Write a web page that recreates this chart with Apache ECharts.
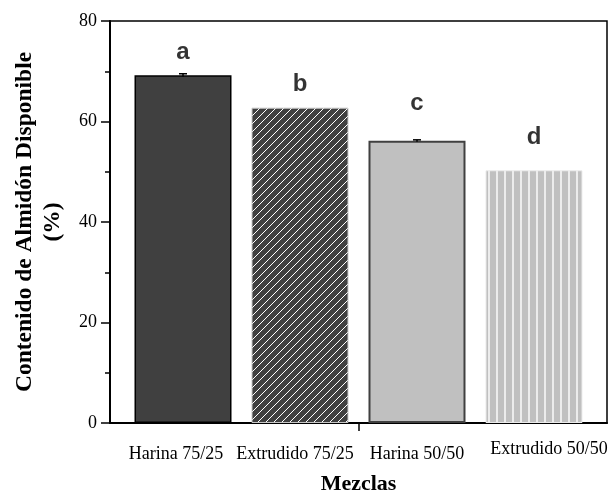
<!DOCTYPE html>
<html>
<head>
<meta charset="utf-8">
<script src="https://cdn.jsdelivr.net/npm/echarts@6/dist/echarts.min.js"></script>
<style>html,body{margin:0;padding:0;background:#fff}#c{width:608px;height:494px}</style>
</head>
<body>
<div id="c"></div>
<script>
// Data
const categories = ['Harina 75/25', 'Extrudido 75/25', 'Harina 50/50', 'Extrudido 50/50'];
const values = [69.2, 62.75, 56.15, 50.3];
const errors = [0.3, 0, 0.2, 0];
const letters = ['a', 'b', 'c', 'd'];
const letterHeights = [73.8, 67.3, 63.7, 56.9];
const yTicks = [0, 20, 40, 60, 80];

function makePattern(kind) {
  const c = document.createElement('canvas');
  c.width = 8; c.height = 8;
  const g = c.getContext('2d');
  if (kind === 'diag') {
    g.fillStyle = '#404040'; g.fillRect(0, 0, 8, 8);
    g.strokeStyle = '#ffffff'; g.lineWidth = 1;
    g.beginPath();
    g.moveTo(-1, 9); g.lineTo(9, -1);
    g.moveTo(-1, 1); g.lineTo(1, -1);
    g.moveTo(7, 9); g.lineTo(9, 7);
    g.stroke();
  } else {
    g.fillStyle = '#c0c0c0'; g.fillRect(0, 0, 8, 8);
    g.fillStyle = '#ececec'; g.fillRect(0, 0, 2, 8);
  }
  return c;
}

const barStyles = [
  { color: '#404040', borderColor: '#000000', borderWidth: 1.5 },
  { color: { image: makePattern('diag'), repeat: 'repeat' }, borderColor: '#c8c8c8', borderWidth: 1 },
  { color: '#c0c0c0', borderColor: '#404040', borderWidth: 2 },
  { color: { image: makePattern('vert'), repeat: 'repeat' }, borderColor: '#ececec', borderWidth: 1 }
];

const chart = echarts.init(document.getElementById('c'));
const serif = 'Liberation Serif';
chart.setOption({
  animation: false,
  backgroundColor: '#ffffff',
  grid: { left: 110, right: 1, top: 21, bottom: 71, outerBoundsMode: 'none', containLabel: false,
    show: true, borderColor: '#000', borderWidth: 1.5, backgroundColor: 'transparent' },
  xAxis: {
    type: 'value', min: -0.624, max: 3.624,
    splitLine: { show: false },
    axisLine: { show: true, onZero: false, lineStyle: { color: '#000', width: 2 } },
    axisTick: { show: true, customValues: [1.5], length: 8, lineStyle: { color: '#000', width: 1.5 } },
    axisLabel: {
      customValues: [0, 1, 2, 3],
      margin: 17,
      formatter: v => '{l' + Math.round(v) + '|' + categories[Math.round(v)] + '}',
      rich: {
        l0: { fontFamily: serif, fontSize: 18, color: '#000', padding: [5, 14, 0, 0] },
        l1: { fontFamily: serif, fontSize: 18, color: '#000', padding: [5, 10, 0, 0] },
        l2: { fontFamily: serif, fontSize: 18, color: '#000', padding: [5, 0, 0, 0] },
        l3: { fontFamily: serif, fontSize: 18, color: '#000', padding: [0, 0, 0, 30] }
      }
    },
    name: 'Mezclas', nameLocation: 'middle', nameGap: 50,
    nameTextStyle: { fontFamily: serif, fontWeight: 'bold', fontSize: 22, color: '#000' }
  },
  yAxis: {
    type: 'value', min: 0, max: 80, interval: 20,
    splitLine: { show: false },
    axisLine: { show: true, onZero: false, lineStyle: { color: '#000', width: 2 } },
    axisTick: { show: true, length: 9, lineStyle: { color: '#000', width: 1.5 } },
    minorTick: { show: true, splitNumber: 2, length: 5, lineStyle: { color: '#000', width: 1.5 } },
    axisLabel: { fontFamily: serif, fontSize: 18, color: '#000', margin: 13,
      formatter: v => yTicks.includes(v) ? String(v) : '' },
    name: 'Contenido de Almidón Disponible\n(%)', nameLocation: 'middle', nameGap: 43,
    nameTextStyle: { fontFamily: serif, fontWeight: 'bold', fontSize: 23.5, color: '#000', lineHeight: 28 }
  },
  series: [
    {
      type: 'bar', barWidth: 97,
      data: values.map((v, i) => ({ value: [i, v], itemStyle: barStyles[i] }))
    },
    {
      type: 'custom',
      data: values.map((v, i) => [i, v - errors[i], v + errors[i], errors[i]]),
      renderItem: (params, api) => {
        if (!api.value(3)) return null;
        const lo = api.coord([api.value(0), api.value(1)]);
        const hi = api.coord([api.value(0), api.value(2)]);
        const hw = 4;
        const st = { stroke: '#000', lineWidth: 1.5 };
        return { type: 'group', children: [
          { type: 'line', shape: { x1: lo[0], y1: lo[1], x2: hi[0], y2: hi[1] }, style: st },
          { type: 'line', shape: { x1: hi[0] - hw, y1: hi[1], x2: hi[0] + hw, y2: hi[1] }, style: st }
        ] };
      },
      z: 5
    },
    {
      type: 'scatter', symbolSize: 1, itemStyle: { color: 'transparent' },
      data: letterHeights.map((h, i) => [i, h]),
      label: { show: true, position: 'inside', formatter: p => letters[p.dataIndex],
        fontFamily: 'Liberation Sans', fontWeight: 'bold', fontSize: 24, color: '#000' }
    }
  ]
});
</script>
</body>
</html>
